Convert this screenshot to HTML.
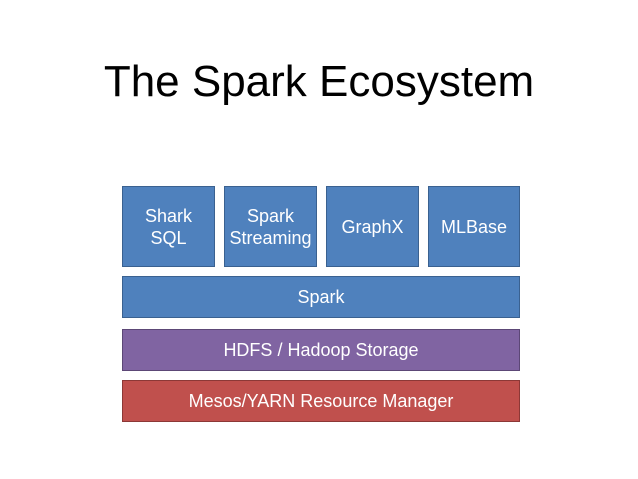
<!DOCTYPE html>
<html><head><style>
body{margin:0;width:638px;height:479px;background:#fff;position:relative;font-family:"Liberation Sans",sans-serif;overflow:hidden}
.t{position:absolute;left:0;width:638px;top:57px;text-align:center;font-size:44px;color:#000}
.b{position:absolute;box-sizing:border-box;display:flex;align-items:center;justify-content:center;text-align:center;color:#fff;font-size:18px;line-height:22px}
.bl{background:#4f81bd;border:1px solid #3a6190}
.pu{background:#8064a2;border:1px solid #5c4776}
.re{background:#c0504d;border:1px solid #8c3836}
</style></head><body>
<div class="t">The Spark Ecosystem</div>
<div class="b bl" style="left:122px;top:186px;width:93px;height:81px">Shark<br>SQL</div>
<div class="b bl" style="left:224px;top:186px;width:93px;height:81px">Spark<br>Streaming</div>
<div class="b bl" style="left:326px;top:186px;width:93px;height:81px">GraphX</div>
<div class="b bl" style="left:428px;top:186px;width:92px;height:81px">MLBase</div>
<div class="b bl" style="left:122px;top:276px;width:398px;height:42px">Spark</div>
<div class="b pu" style="left:122px;top:329px;width:398px;height:42px">HDFS / Hadoop Storage</div>
<div class="b re" style="left:122px;top:380px;width:398px;height:42px">Mesos/YARN Resource Manager</div>
</body></html>
